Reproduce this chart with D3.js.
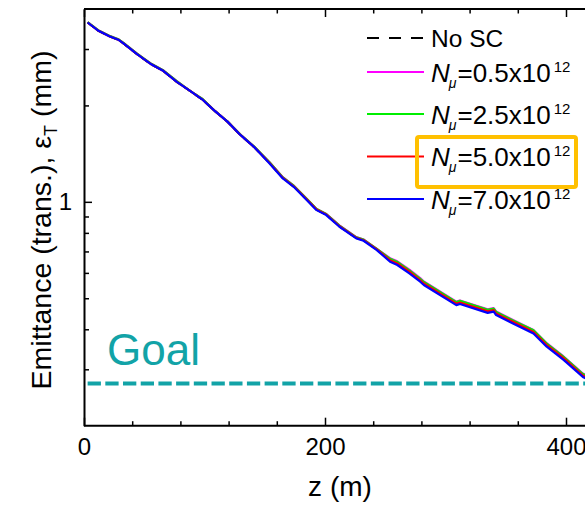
<!DOCTYPE html>
<html>
<head>
<meta charset="utf-8">
<script src="https://cdn.jsdelivr.net/npm/d3@7"></script>
<style>
  html, body { margin: 0; padding: 0; background: #fff; }
  svg { display: block; font-family: "Liberation Sans", Arial, sans-serif; }
</style>
</head>
<body>
<svg id="chart" width="585" height="505"></svg>
<script>
// Position along the channel, z (m)
const zPos = [3, 12, 21, 29, 33, 44, 55, 66, 77, 88, 98, 108, 119, 130, 141, 154, 165, 174, 185, 193,
              201, 212, 226, 232, 243, 254, 260, 270, 279, 282, 309, 312, 335, 340, 342, 356, 373, 384, 398, 414, 420];

// Transverse emittance (mm) for each muon intensity
const emitNoSC = [3.63, 3.42, 3.29, 3.20, 3.12, 2.89, 2.70, 2.56, 2.37, 2.22, 2.09, 1.93, 1.78, 1.615, 1.485,
                  1.323, 1.188, 1.118, 1.016, 0.946, 0.913, 0.839, 0.772, 0.759, 0.710,
                  0.657, 0.642, 0.605, 0.569, 0.556, 0.481, 0.485, 0.455, 0.459, 0.448, 0.422, 0.392, 0.357, 0.325, 0.287, 0.280];
const emitN05 = [3.64, 3.43, 3.30, 3.21, 3.13, 2.90, 2.71, 2.57, 2.38, 2.22, 2.10, 1.93, 1.785, 1.62, 1.49,
                 1.330, 1.194, 1.124, 1.021, 0.950, 0.917, 0.844, 0.776, 0.763, 0.713,
                 0.667, 0.652, 0.614, 0.578, 0.564, 0.488, 0.492, 0.462, 0.466, 0.455, 0.428, 0.398, 0.362, 0.329, 0.291, 0.284];
const emitN25 = [3.64, 3.43, 3.30, 3.21, 3.13, 2.90, 2.71, 2.57, 2.38, 2.22, 2.10, 1.93, 1.785, 1.62, 1.49,
                 1.329, 1.192, 1.123, 1.020, 0.950, 0.916, 0.843, 0.775, 0.762, 0.713,
                 0.664, 0.649, 0.611, 0.575, 0.562, 0.486, 0.491, 0.460, 0.464, 0.453, 0.426, 0.397, 0.361, 0.328, 0.290, 0.283];
const emitN50 = [3.63, 3.42, 3.29, 3.20, 3.12, 2.89, 2.70, 2.56, 2.37, 2.22, 2.09, 1.93, 1.78, 1.615, 1.485,
                 1.323, 1.188, 1.118, 1.016, 0.946, 0.913, 0.839, 0.772, 0.759, 0.710,
                 0.657, 0.642, 0.605, 0.569, 0.556, 0.481, 0.485, 0.455, 0.459, 0.448, 0.422, 0.392, 0.357, 0.325, 0.287, 0.280];
const emitN70 = [3.63, 3.42, 3.29, 3.20, 3.12, 2.89, 2.70, 2.56, 2.37, 2.22, 2.09, 1.93, 1.78, 1.615, 1.485,
                 1.318, 1.183, 1.114, 1.012, 0.942, 0.909, 0.836, 0.769, 0.756, 0.707,
                 0.650, 0.635, 0.598, 0.563, 0.550, 0.476, 0.480, 0.450, 0.454, 0.443, 0.417, 0.388, 0.353, 0.321, 0.284, 0.277];

const seriesNames  = ["No SC", "0.5", "2.5", "5.0", "7.0"];
const seriesColors = ["#000000", "#ff00ff", "#00ee00", "#ff0000", "#0000ff"];
const seriesValues = [emitNoSC, emitN05, emitN25, emitN50, emitN70];

const xMajorTicks = [0, 200, 400];
const xMinorTicks = [40, 80, 120, 160, 240, 280, 320, 360, 440];
const yMajorTicks = [1];
const yMinorTicks = [0.3, 0.4, 0.5, 0.6, 0.7, 0.8, 0.9, 2, 3];

const goalLevel = 0.271;
const goalSpan = [3, 440];

const svg = d3.select("#chart");
const plotLeft = 84, plotTop = 9, plotBottom = 425.7;

const x = d3.scaleLinear().domain([0, 400]).range([plotLeft, 566]);
const xEnd = x(440);
const y = d3.scaleLog().domain([0.2, 4]).range([plotBottom, plotTop]);

const font = '"Liberation Sans", Arial, sans-serif';

svg.append("defs").append("clipPath").attr("id", "plotClip")
  .append("rect").attr("x", plotLeft).attr("y", plotTop)
  .attr("width", xEnd - plotLeft).attr("height", plotBottom - plotTop);

// Goal level
const plot = svg.append("g").attr("clip-path", "url(#plotClip)");
plot.append("line")
  .attr("x1", x(goalSpan[0])).attr("x2", x(goalSpan[1]))
  .attr("y1", y(goalLevel)).attr("y2", y(goalLevel))
  .attr("stroke", "#12a3a7").attr("stroke-width", 4)
  .attr("stroke-dasharray", "13.3,4.4");

// Emittance curves
const line = d3.line().x((d, i) => x(zPos[i])).y(d => y(d));
seriesValues.forEach((vals, k) => {
  plot.append("path").datum(vals)
    .attr("d", line)
    .attr("fill", "none")
    .attr("stroke", seriesColors[k])
    .attr("stroke-width", 2.2)
    .attr("stroke-dasharray", k === 0 ? "8,5" : null)
    .attr("stroke-linejoin", "round");
});

svg.append("text")
  .attr("x", 107).attr("y", 365)
  .attr("font-size", 44).attr("fill", "#12a3a7")
  .attr("font-family", font)
  .text("Goal");

// Axes, ticks pointing inward
function styleAxis(g) {
  g.selectAll("path.domain").attr("stroke", "#000").attr("stroke-width", 2);
  g.selectAll(".tick line").attr("stroke", "#000").attr("stroke-width", 1.5);
  g.selectAll(".tick text").attr("font-size", 24).attr("font-family", font).attr("fill", "#000");
}

const bottomAxis = svg.append("g").attr("transform", `translate(0,${plotBottom})`)
  .call(d3.axisBottom(x).tickValues(xMajorTicks).tickSize(-8).tickSizeOuter(0).tickPadding(12)
    .tickFormat(d3.format("d")));
bottomAxis.select("path.domain").attr("d", `M${plotLeft},0H${xEnd}`);
styleAxis(bottomAxis);
const bottomMinor = svg.append("g").attr("transform", `translate(0,${plotBottom})`)
  .call(d3.axisBottom(x).tickValues(xMinorTicks).tickSize(-4.5).tickFormat(""));
bottomMinor.select("path.domain").remove();
styleAxis(bottomMinor);

const topAxis = svg.append("g").attr("transform", `translate(0,${plotTop})`)
  .call(d3.axisTop(x).tickValues(xMajorTicks).tickSize(-8).tickSizeOuter(0).tickFormat(""));
topAxis.select("path.domain").attr("d", `M${plotLeft},0H${xEnd}`);
styleAxis(topAxis);
const topMinor = svg.append("g").attr("transform", `translate(0,${plotTop})`)
  .call(d3.axisTop(x).tickValues(xMinorTicks).tickSize(-4.5).tickFormat(""));
topMinor.select("path.domain").remove();
styleAxis(topMinor);

const leftAxis = svg.append("g").attr("transform", `translate(${plotLeft},0)`)
  .call(d3.axisLeft(y).tickValues(yMajorTicks).tickSize(-8).tickSizeOuter(0).tickPadding(12)
    .tickFormat(d3.format("d")));
styleAxis(leftAxis);
const leftMinor = svg.append("g").attr("transform", `translate(${plotLeft},0)`)
  .call(d3.axisLeft(y).tickValues(yMinorTicks).tickSize(-5).tickFormat(""));
leftMinor.select("path.domain").remove();
styleAxis(leftMinor);

// Axis titles
svg.append("text")
  .attr("x", 340).attr("y", 496)
  .attr("text-anchor", "middle").attr("font-size", 28).attr("font-family", font)
  .text("z (m)");

const yTitle = svg.append("text")
  .attr("transform", "translate(51,220) rotate(-90)")
  .attr("text-anchor", "middle").attr("font-size", 28.5).attr("font-family", font);
yTitle.append("tspan").text("Emittance (trans.), ε");
yTitle.append("tspan").attr("font-size", 18).attr("dy", 6).text("T");
yTitle.append("tspan").attr("dy", -6).text(" (mm)");

// Legend
const legendRowY = [38, 72, 114, 156.5, 199];
const legend = svg.append("g");
seriesNames.forEach((name, k) => {
  const ry = legendRowY[k];
  legend.append("line")
    .attr("x1", 367).attr("x2", 424).attr("y1", ry).attr("y2", ry)
    .attr("stroke", seriesColors[k]).attr("stroke-width", 2)
    .attr("stroke-dasharray", k === 0 ? "12,10" : null);
  const t = legend.append("text")
    .attr("x", 431).attr("font-family", font).attr("fill", "#000");
  if (k === 0) {
    t.attr("y", ry + 8.5).attr("font-size", 24.5).text(name);
  } else {
    t.attr("y", ry + 9.5).attr("font-size", 26);
    t.append("tspan").attr("font-style", "italic").text("N");
    t.append("tspan").attr("font-style", "italic").attr("font-size", 14).attr("dy", 6).attr("dx", -1).text("μ");
    t.append("tspan").attr("dy", -6).attr("dx", 1).text("=" + name + "x10");
    t.append("tspan").attr("font-size", 15).attr("dy", -10).attr("dx", 3).text("12");
  }
});

// Highlight box around the 5.0x10^12 entry
legend.append("rect")
  .attr("x", 417).attr("y", 137).attr("width", 159).attr("height", 50)
  .attr("rx", 2)
  .attr("fill", "none").attr("stroke", "#ffc000").attr("stroke-width", 4);
</script>
</body>
</html>
